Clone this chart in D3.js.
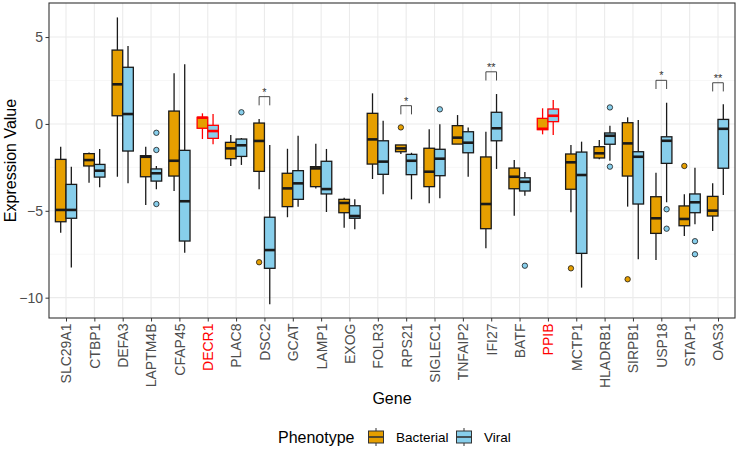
<!DOCTYPE html>
<html lang="en">
  <head>
    <meta charset="utf-8">
    <title>Expression by gene</title>
    <script src="https://d3js.org/d3.v7.js"></script>
    <style>
      body { margin: 0; background: white; }
      text { font-family: "Liberation Sans", Arial, sans-serif; }
    </style>
  </head>
  <body>
  <script>

// data

  var genes = ["SLC29A1", "CTBP1", "DEFA3", "LAPTM4B", "CFAP45", "DECR1", "PLAC8", "DSC2",
    "GCAT", "LAMP1", "EXOG", "FOLR3", "RPS21", "SIGLEC1", "TNFAIP2", "IFI27", "BATF", "PPIB",
    "MCTP1", "HLADRB1", "SIRPB1", "USP18", "STAP1", "OAS3"];
  var redGenes = ["DECR1", "PPIB"];
  var phenotypes = ["Bacterial", "Viral"];

  var bacLow  = [-6.26, -3.38, -3.04, -4.67, -3.86, -0.87, -2.42, -3.76, -5.37, -3.71, -5.97, -3.17, -1.73, -4.57, -1.16, -7.16, -5.28, -0.60, -5.09, -2.04, -4.76, -7.83, -6.45, -6.16];
  var bacQ1   = [-5.63, -2.42,  0.47, -3.04, -3.00, -0.25, -2.00, -2.73, -4.76, -3.61, -5.11, -2.31, -1.60, -3.61, -1.16, -6.03, -3.73, -0.33, -3.76, -1.96, -3.00, -6.30, -5.86, -5.30];
  var bacMed  = [-4.95, -2.08,  2.28, -1.89, -2.12,  0.36, -1.41, -0.98, -3.71, -2.56, -4.55, -0.89, -1.41, -2.75, -0.79, -4.61, -3.04, -0.28, -2.21, -1.69, -1.12, -5.43, -5.47, -4.99];
  var bacQ3   = [-2.04, -1.71,  4.25, -1.83,  0.74,  0.38, -1.06,  0.05, -2.84, -2.46, -4.34,  0.61, -1.21, -1.40, -0.10, -1.90, -2.54,  0.32, -1.73, -1.31,  0.07, -4.19, -4.72, -4.17];
  var bacHigh = [-1.31, -1.64,  6.13, -1.31,  2.91,  0.61, -0.64,  0.28, -1.43, -1.14, -4.25,  1.76, -1.21, -0.31,  0.51, -0.45, -2.08,  0.90, -1.21, -0.93,  0.38, -2.81, -4.05, -3.42];
  var bacOutGene = ["DSC2", "RPS21", "MCTP1", "SIRPB1", "STAP1"];
  var bacOutVal  = [-7.96, -0.20, -8.31, -8.94, -2.42];

  var virLow  = [-8.27, -3.65, -3.42, -3.76, -7.41, -1.17, -2.36, -10.38, -4.76, -5.07, -6.06, -4.05, -4.34, -4.28, -3.04, -2.59, -4.13, -0.64, -9.42, -2.12, -7.79, -4.51, -5.78, -4.09];
  var virQ1   = [-5.43, -3.06, -1.56, -3.29, -6.74, -0.83, -1.87, -8.31, -4.34, -4.03, -5.43, -2.90, -2.92, -2.98, -1.66, -0.97, -3.86,  0.13, -7.45, -1.17, -4.61, -2.27, -5.11, -2.55];
  var virMed  = [-4.95, -2.69,  0.57, -2.84, -4.45, -0.41, -1.23, -7.26, -3.42, -3.75, -5.30, -2.17, -2.12, -2.00, -1.08, -0.25, -3.33,  0.47, -2.94, -0.68, -1.89, -0.97, -4.51, -0.28];
  var virQ3   = [-3.48, -2.33,  3.26, -2.59, -1.52, -0.08, -0.87, -5.37, -2.69, -2.15, -4.71, -0.97, -1.75, -1.46, -0.45,  0.67, -3.10,  0.86, -1.62, -0.52, -1.60, -0.74, -4.03,  0.26];
  var virHigh = [-2.46, -1.44,  4.48, -2.42,  3.43,  0.57, -0.81, -1.21, -0.68, -1.44, -4.34,  0.18, -1.66, -0.02, -0.20,  1.72, -2.77,  1.37, -1.02, -0.10,  0.22,  1.22, -2.52,  1.13];
  var virOutGene = ["LAPTM4B", "LAPTM4B", "LAPTM4B", "PLAC8", "SIGLEC1", "BATF", "HLADRB1", "HLADRB1", "USP18", "USP18", "STAP1", "STAP1"];
  var virOutVal  = [-0.51, -1.50, -4.61, 0.67, 0.84, -8.16, 0.95, -2.46, -4.91, -6.03, -6.75, -7.50];

  var sigGenes  = ["DSC2", "RPS21", "IFI27", "USP18", "OAS3"];
  var sigLabels = ["*", "*", "**", "*", "**"];
  var sigY      = [1.57, 1.05, 3.00, 2.51, 2.37];

  var yTicks = [-10, -5, 0, 5];

// layout

  var w = 743;
  var h = 454;
  var panel = {left: 49, right: 735, top: 3, bottom: 318};
  var fill = {Bacterial: "#E69F00", Viral: "#87CEEB"};
  var grey = "#4d4d4d";

  var svg = d3.select("body")
    .append("svg")
      .attr("width", w)
      .attr("height", h);

  var xScale = d3.scalePoint()
      .domain(genes)
      .range([panel.left, panel.right])
      .padding(0.6);

  var yScale = d3.scaleLinear()
      .domain([-11.17, 6.96])
      .range([panel.bottom, panel.top]);

  var step = xScale.step();
  var boxW = step * 0.375;
  var dodge = {Bacterial: -step * 0.1875, Viral: step * 0.1875};

  var boxes = [];
  genes.forEach(function (g, i) {
    boxes.push({gene: g, ph: "Bacterial", low: bacLow[i], q1: bacQ1[i], med: bacMed[i], q3: bacQ3[i], high: bacHigh[i]});
    boxes.push({gene: g, ph: "Viral", low: virLow[i], q1: virQ1[i], med: virMed[i], q3: virQ3[i], high: virHigh[i]});
  });
  var outliers = bacOutGene.map((g, i) => ({gene: g, ph: "Bacterial", value: bacOutVal[i]}))
      .concat(virOutGene.map((g, i) => ({gene: g, ph: "Viral", value: virOutVal[i]})));

// panel background and grid

  svg.append("rect")
      .attr("x", panel.left)
      .attr("y", panel.top)
      .attr("width", panel.right - panel.left)
      .attr("height", panel.bottom - panel.top)
      .attr("fill", "white");

  var minor = d3.range(-10, 7.5, 2.5).filter(v => v % 5 != 0);
  svg.append("g").selectAll("line")
      .data(minor)
    .enter().append("line")
      .attr("x1", panel.left).attr("x2", panel.right)
      .attr("y1", d => yScale(d)).attr("y2", d => yScale(d))
      .attr("stroke", "#f2f2f2").attr("stroke-width", 0.6);

  svg.append("g").selectAll("line")
      .data(yTicks)
    .enter().append("line")
      .attr("x1", panel.left).attr("x2", panel.right)
      .attr("y1", d => yScale(d)).attr("y2", d => yScale(d))
      .attr("stroke", "#ebebeb").attr("stroke-width", 1.1);

  svg.append("g").selectAll("line")
      .data(genes)
    .enter().append("line")
      .attr("x1", d => xScale(d)).attr("x2", d => xScale(d))
      .attr("y1", panel.top).attr("y2", panel.bottom)
      .attr("stroke", "#ebebeb").attr("stroke-width", 1.1);

// boxplots

  var plot = svg.append("g").attr("id", "plot");

  var bx = plot.selectAll("g.box")
      .data(boxes)
    .enter().append("g")
      .attr("class", "box")
      .attr("transform", d => `translate(${xScale(d.gene) + dodge[d.ph]},0)`);

  var lineCol = d => redGenes.includes(d.gene) ? "red" : "#1a1a1a";

  bx.append("line")
      .attr("y1", d => yScale(d.high)).attr("y2", d => yScale(d.q3))
      .attr("stroke", lineCol).attr("stroke-width", 1.3);
  bx.append("line")
      .attr("y1", d => yScale(d.q1)).attr("y2", d => yScale(d.low))
      .attr("stroke", lineCol).attr("stroke-width", 1.3);
  bx.append("rect")
      .attr("x", -boxW / 2)
      .attr("width", boxW)
      .attr("y", d => yScale(d.q3))
      .attr("height", d => Math.max(yScale(d.q1) - yScale(d.q3), 0.5))
      .attr("fill", d => fill[d.ph])
      .attr("stroke", lineCol).attr("stroke-width", 1.3);
  bx.append("line")
      .attr("x1", -boxW / 2).attr("x2", boxW / 2)
      .attr("y1", d => yScale(d.med)).attr("y2", d => yScale(d.med))
      .attr("stroke", lineCol).attr("stroke-width", 2.6);

  plot.selectAll("circle")
      .data(outliers)
    .enter().append("circle")
      .attr("cx", d => xScale(d.gene) + dodge[d.ph])
      .attr("cy", d => yScale(d.value))
      .attr("r", 2.7)
      .attr("fill", d => fill[d.ph])
      .attr("stroke", "#1a1a1a").attr("stroke-width", 0.8);

// significance brackets

  var sig = plot.selectAll("g.sig")
      .data(sigGenes)
    .enter().append("g")
      .attr("class", "sig");

  var tip = 0.5;
  sig.append("path")
      .attr("d", (d, i) => {
        var x0 = xScale(d) + dodge.Bacterial, x1 = xScale(d) + dodge.Viral;
        var y = yScale(sigY[i]), y2 = yScale(sigY[i] - tip);
        return `M${x0},${y2}V${y}H${x1}V${y2}`;
      })
      .attr("fill", "none").attr("stroke", "#333").attr("stroke-width", 0.9);
  sig.append("text")
      .attr("x", d => xScale(d))
      .attr("y", (d, i) => yScale(sigY[i]) - 1)
      .attr("text-anchor", "middle")
      .attr("font-size", 11)
      .attr("fill", "#333")
      .text((d, i) => sigLabels[i]);

// panel border and axes

  svg.append("rect")
      .attr("x", panel.left)
      .attr("y", panel.top)
      .attr("width", panel.right - panel.left)
      .attr("height", panel.bottom - panel.top)
      .attr("fill", "none")
      .attr("stroke", "#333").attr("stroke-width", 1.1);

  var yAxis = svg.append("g")
      .attr("transform", `translate(${panel.left},0)`)
      .call(d3.axisLeft(yScale).tickValues(yTicks).tickSize(3.5).tickPadding(2.5));
  yAxis.select(".domain").remove();
  yAxis.selectAll("line").attr("stroke", "#333");
  yAxis.selectAll("text")
      .attr("fill", grey)
      .attr("font-size", 14)
      .style("font-family", "'Liberation Sans', Arial, sans-serif");

  var xAxis = svg.append("g")
      .attr("transform", `translate(0,${panel.bottom})`)
      .call(d3.axisBottom(xScale).tickSize(3.5).tickPadding(2.5));
  xAxis.select(".domain").remove();
  xAxis.selectAll("line").attr("stroke", "#333");
  xAxis.selectAll("text")
      .attr("transform", "rotate(-90)")
      .attr("text-anchor", "end")
      .attr("x", -5.5)
      .attr("y", 0)
      .attr("dy", "0.35em")
      .attr("fill", d => redGenes.includes(d) ? "red" : grey)
      .attr("font-size", 14)
      .style("font-family", "'Liberation Sans', Arial, sans-serif");

  svg.append("text")
      .attr("transform", `translate(16,${(panel.top + panel.bottom) / 2}) rotate(-90)`)
      .attr("text-anchor", "middle")
      .attr("font-size", 16)
      .text("Expression Value");

  svg.append("text")
      .attr("x", (panel.left + panel.right) / 2)
      .attr("y", 404)
      .attr("text-anchor", "middle")
      .attr("font-size", 16)
      .text("Gene");

// legend

  var legend = svg.append("g").attr("transform", "translate(278,437)");
  legend.append("text")
      .attr("x", 0).attr("y", 5.5)
      .attr("font-size", 16)
      .text("Phenotype");

  var keys = legend.selectAll("g.key")
      .data(phenotypes)
    .enter().append("g")
      .attr("class", "key")
      .attr("transform", (d, i) => `translate(${[90, 178][i]},0)`);
  keys.append("line")
      .attr("x1", 8).attr("x2", 8).attr("y1", -9).attr("y2", 9)
      .attr("stroke", "#333").attr("stroke-width", 1);
  keys.append("rect")
      .attr("x", 0.5).attr("y", -6).attr("width", 15).attr("height", 12)
      .attr("fill", d => fill[d])
      .attr("stroke", "#333").attr("stroke-width", 1);
  keys.append("line")
      .attr("x1", 0.5).attr("x2", 15.5).attr("y1", 0).attr("y2", 0)
      .attr("stroke", "#333").attr("stroke-width", 1.6);
  keys.append("text")
      .attr("x", 28).attr("y", 4.5)
      .attr("font-size", 13.5)
      .text(d => d);

  </script>
  </body>
</html>
